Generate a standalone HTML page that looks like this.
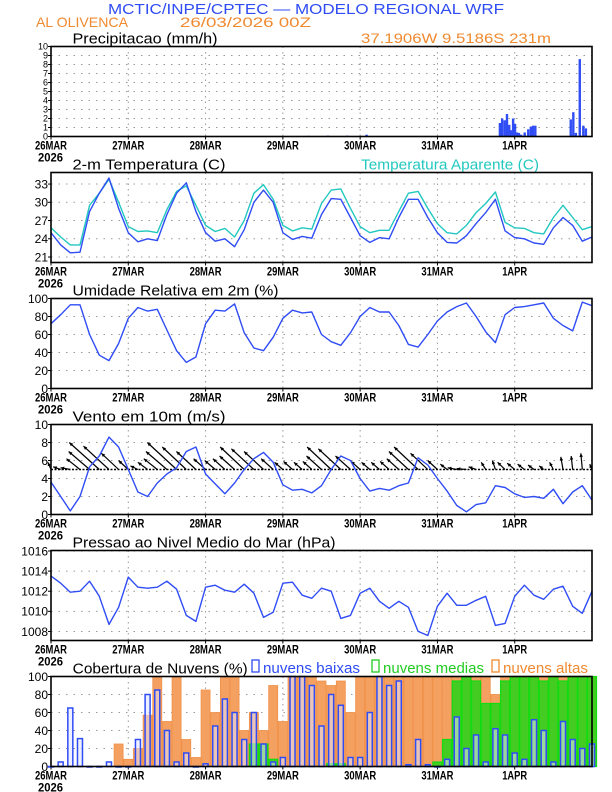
<!DOCTYPE html>
<html><head><meta charset="utf-8"><style>
html,body{margin:0;padding:0;background:#fff}
svg{display:block}
text{font-family:"Liberation Sans",sans-serif}
</style></head><body>
<svg id="chart" width="612" height="792" viewBox="0 0 612 792" xmlns="http://www.w3.org/2000/svg"></svg>
<script>
// ---- data (3-hourly, hours 0..168) ----
const dayLabels = ["26MAR","27MAR","28MAR","29MAR","30MAR","31MAR","1APR"];
const tempTicks = [21,24,27,30,33];
const rhTicks = [0,20,40,60,80,100];
const windTicks = [0,2,4,6,8,10];
const presTicks = [1008,1010,1012,1014,1016];
const cloudTicks = [0,20,40,60,80,100];
const precipTicks = [0,1,2,3,4,5,6,7,8,9,10];
const tempBlue = [25.0,23.0,21.7,21.8,28.5,31.5,34.0,29.0,25.0,
 23.5,24.0,23.7,28.0,31.5,33.2,28.5,25.0,
 23.6,24.0,22.7,25.5,30.0,32.0,30.0,25.0,
 23.9,24.4,24.1,28.0,30.6,30.5,27.5,24.5,
 23.4,24.2,24.0,27.5,30.5,30.5,27.5,25.0,
 23.4,23.3,24.5,26.5,28.3,30.5,25.3,24.2,
 24.0,23.3,23.1,25.8,27.5,26.2,23.6,24.3];
const tempApparent = [25.8,24.3,23.0,23.0,29.5,31.5,33.8,30.0,26.0,
 25.2,25.3,25.0,28.8,31.8,32.7,29.5,26.2,
 25.2,25.7,24.3,27.0,31.5,32.9,30.5,26.2,
 25.3,25.8,25.6,29.8,32.0,32.2,29.0,26.0,
 25.0,25.4,25.4,28.5,31.5,31.8,29.0,26.5,
 25.0,24.8,26.2,28.3,29.8,31.7,26.7,25.8,
 25.7,25.0,24.8,27.5,29.5,27.5,25.5,26.0];
const humidity = [72,82,93,93,60,37,31,50,78,
 90,86,88,65,42,29,35,72,
 87,86,94,62,45,42,57,78,
 87,84,85,60,52,48,62,80,
 90,85,85,70,49,46,60,75,
 85,91,95,80,63,51,82,90,
 91,93,95,78,70,64,96,92];
const windSpeed = [3.6,2.0,0.4,2.0,5.3,6.5,8.6,7.5,5.0,
 2.5,2.0,3.5,4.5,5.2,7.0,7.5,4.5,
 3.4,2.3,3.5,5.0,6.2,6.9,5.8,3.3,
 2.7,2.8,2.4,3.2,5.0,6.5,6.0,4.0,
 2.6,2.9,2.7,3.2,3.5,6.3,5.5,4.0,
 2.6,1.0,0.3,1.1,1.3,3.2,3.0,2.3,
 1.9,2.0,1.8,2.8,1.2,2.5,3.2,1.6];
const arrowV = [0.8,0.3,0.2,1.2,2.0,3.0,2.6,1.8,1.0,
 0.4,0.8,1.2,2.0,3.0,2.5,2.0,1.2,
 1.0,1.2,1.5,2.5,2.3,2.0,1.2,0.8,
 0.9,0.8,0.9,1.5,2.5,2.3,1.5,0.9,
 0.8,0.8,0.9,1.2,2.0,2.5,1.8,1.0,
 0.6,0.2,0.1,0.3,0.8,1.0,0.8,0.7,
 0.6,0.5,0.4,0.8,1.4,1.5,1.8,0.6];
const arrowU = [-0.4,-1.0,-1.3,-1.8,-2.8,-4.0,-3.4,-2.3,-1.3,
 -1.0,-1.3,-1.8,-2.8,-3.9,-3.2,-2.6,-1.6,
 -1.4,-1.6,-2.0,-3.2,-3.0,-2.6,-1.6,-1.1,
 -1.2,-1.1,-1.2,-2.0,-3.2,-3.0,-2.0,-1.2,
 -1.1,-1.1,-1.2,-1.6,-2.6,-3.2,-2.3,-1.3,
 -0.9,-1.2,-1.3,-1.0,-0.6,-0.4,-1.0,-1.0,
 -0.9,-0.8,-0.6,-0.5,-0.3,-0.2,-0.2,-0.3];
const pressure = [1013.5,1012.8,1011.9,1012.0,1013.0,1011.5,1008.7,1010.4,1013.4,
 1012.4,1012.3,1012.4,1013.0,1012.2,1009.6,1009.0,1012.4,
 1012.6,1012.1,1011.9,1012.7,1011.8,1009.4,1009.9,1012.8,
 1012.9,1011.6,1011.3,1012.3,1012.0,1009.3,1009.6,1011.8,
 1012.3,1011.0,1010.3,1011.0,1010.4,1008.0,1007.6,1010.5,
 1011.8,1010.6,1010.6,1011.1,1011.5,1008.6,1008.8,1011.5,
 1012.6,1011.6,1011.2,1012.2,1012.5,1010.5,1009.8,1012.0];
const cloudLow = [0,5,65,31,0,0,5,0,
 0,30,80,85,40,5,15,0,
 3,45,75,60,30,60,25,5,
 10,100,100,90,45,80,68,10,
 10,60,100,90,95,2,30,2,
 0,8,55,20,35,5,42,35,
 15,8,52,40,5,50,30,20,25];
const cloudMid = [0,0,0,0,0,0,0,0,
 0,0,0,0,0,0,0,0,
 0,0,0,0,0,25,25,8,
 0,0,0,0,0,3,3,0,
 0,0,0,0,0,0,0,0,
 5,30,95,100,95,70,70,95,
 100,100,100,95,100,95,100,100,100];
const cloudHigh = [0,0,0,0,0,0,0,25,
 8,20,57,100,50,100,30,10,
 85,60,100,100,40,60,40,90,
 50,100,100,100,95,90,95,60,
 100,100,100,100,100,100,100,100,
 100,100,100,100,100,100,80,100,
 100,100,95,100,95,100,90,100,100];
const precipHours = [50,58,66,80,86,92,98,139.4,140.1,140.9,141.6,142.3,142.9,143.5,144.1,144.7,145.3,146.0,147.1,148.2,149.0,149.7,150.4,161.4,162.2,163.0,164.2,165.3,166.1];
const precipValues = [0.05,0.05,0.05,0.08,0.1,0.1,0.2,1.5,2.0,1.8,2.5,1.3,0.7,2.0,1.4,0.45,0.4,0.2,0.45,0.8,1.1,1.2,1.2,1.9,2.7,0.4,8.6,1.2,0.9];

// ---- layout ----
const svg = document.getElementById('chart');
const NS = 'http://www.w3.org/2000/svg';
const X0 = 51, X1 = 592, HOURS = 168;
function xh(h){ return X0 + h*(X1-X0)/HOURS; }
function mk(tag, attrs, parent){
  const e = document.createElementNS(NS, tag);
  for (const k in attrs) e.setAttribute(k, attrs[k]);
  (parent||svg).appendChild(e);
  return e;
}
function txt(str, attrs, parent){ const t = mk('text', attrs, parent); t.textContent = str; return t; }

const BLUE = '#2f4cf5', CYAN = '#22c8c0', ORANGE = '#f08a30';

let t;
t = txt('MCTIC/INPE/CPTEC \u2014 MODELO REGIONAL WRF', {x:108,y:14,'font-size':15,fill:BLUE,textLength:396,lengthAdjust:'spacingAndGlyphs'});
 
t = txt('AL OLIVENCA', {x:36,y:27,'font-size':14,fill:ORANGE,textLength:92,lengthAdjust:'spacingAndGlyphs'});
 
t = txt('26/03/2026 00Z', {x:180,y:27,'font-size':14,fill:ORANGE,textLength:131,lengthAdjust:'spacingAndGlyphs'});
 
t = txt('37.1906W 9.5186S 231m', {x:361,y:43,'font-size':14,fill:ORANGE,textLength:190,lengthAdjust:'spacingAndGlyphs'});
 

function panel(name, top, ymin, ymax, ticks, tickFont){
  const g = mk('g', {});
  
  
  const H = 90;
  const y = v => top + H - (v-ymin)/(ymax-ymin)*H;
  for (let d=1; d<7; d++){
    const gl = mk('line',{x1:xh(d*24),x2:xh(d*24),y1:top,y2:top+H,stroke:'#999','stroke-width':1,'stroke-dasharray':'1.5,4'},g);
     
  }
  ticks.forEach(v=>{
    if (v>ymin+1e-6 && v<ymax-1e-6){
      const gl = mk('line',{x1:X0,x2:X1,y1:y(v),y2:y(v),stroke:'#999','stroke-width':1,'stroke-dasharray':'1.5,6'},g);
       
    }
    const tk = mk('line',{x1:X0-3,x2:X0,y1:y(v),y2:y(v),stroke:'#000','stroke-width':1},g);
     
    const lb = txt(String(v),{x:X0-3,y:y(v)+tickFont*0.36,'font-size':tickFont,'text-anchor':'end',fill:'#000'},g);
     
  });
  dayLabels.forEach((s,i)=>{
    const xx = xh(i*24);
    const tk = mk('line',{x1:xx,x2:xx,y1:top+H,y2:top+H+3,stroke:'#000','stroke-width':1},g);
     
    const w = s.length===4 ? 25 : 32;
    const lb = txt(s,{x:xx-w/2,y:top+H+13,'font-size':12,'font-weight':'bold',textLength:w,lengthAdjust:'spacingAndGlyphs'},g);
     
  });
  const yr = txt('2026',{x:38,y:top+H+25,'font-size':12,'font-weight':'bold',textLength:25,lengthAdjust:'spacingAndGlyphs'},g);
   
  return {g, y, top, H};
}
function frame(p){
  const b = mk('rect',{x:X0,y:p.top,width:X1-X0,height:p.H,fill:'none',stroke:'#000','stroke-width':1.6},p.g);
   
}
function title(p, s, x, w, color){
  return txt(s,{x:x,y:p.top-3,'font-size':15,fill:color||'#000',textLength:w,lengthAdjust:'spacingAndGlyphs'},p.g);
}
function line(p, arr, color, name){
  const d = arr.map((v,i)=>(i?'L':'M')+xh(i*3).toFixed(1)+','+p.y(v).toFixed(1)).join(' ');
  const l = mk('path',{d:d,fill:'none',stroke:color,'stroke-width':1.4,'stroke-linejoin':'round'},p.g);
   
}

// Panel 1 precipitation
const p1 = panel('precipitation', 46.5, 0, 10, precipTicks, 9);
t = title(p1,'Precipitacao (mm/h)',72.5,145);  
precipHours.forEach((h,i)=>{
  const v = precipValues[i];
  const r = mk('rect',{x:xh(h)-1.2,y:p1.y(v),width:2.4,height:Math.max(0.6,p1.y(0)-p1.y(v)),fill:BLUE},p1.g);
   
});
frame(p1);

// Panel 2 temperature
const p2 = panel('temperature', 172.5, 20.1, 34.9, tempTicks, 12);
t = title(p2,'2-m Temperatura (C)',72.5,153);  
t = title(p2,'Temperatura Aparente (C)',361,178,CYAN);  
line(p2, tempApparent, CYAN, 'apparent-temperature-line');
line(p2, tempBlue, BLUE, 'temperature-line');
frame(p2);

// Panel 3 humidity
const p3 = panel('humidity', 298.5, 0, 100, rhTicks, 12);
t = title(p3,'Umidade Relativa em 2m (%)',72.5,206);  
line(p3, humidity, BLUE, 'humidity-line');
frame(p3);

// Panel 4 wind
const p4 = panel('wind', 424.5, 0, 10, windTicks, 12);
t = title(p4,'Vento em 10m (m/s)',72.5,153);  
const unitPx = 9, unitPxX = 7.5;
arrowV.forEach((v,i)=>{
  const bx = xh(i*3), by = p4.y(5);
  const tx = bx + arrowU[i]*unitPxX, ty = by - v*unitPx;
  const a = mk('line',{x1:bx,y1:by,x2:tx,y2:ty,stroke:'#000','stroke-width':1.2},p4.g);
   
  const ang = Math.atan2(ty-by, tx-bx);
  const hl = 4;
  const hd = `M${tx},${ty} L${tx-hl*Math.cos(ang-0.45)},${ty-hl*Math.sin(ang-0.45)} L${tx-hl*Math.cos(ang+0.45)},${ty-hl*Math.sin(ang+0.45)} Z`;
  const ah = mk('path',{d:hd,fill:'#000'},p4.g);
   
});
const base = mk('line',{x1:X0,x2:X1,y1:p4.y(5),y2:p4.y(5),stroke:'#000','stroke-width':1.5,'stroke-dasharray':'2,1.5'},p4.g);
 
line(p4, windSpeed, BLUE, 'wind-speed-line');
frame(p4);

// Panel 5 pressure
const p5 = panel('pressure', 550.5, 1007.1, 1016.05, presTicks, 12);
t = title(p5,'Pressao ao Nivel Medio do Mar (hPa)',72.5,263);  
line(p5, pressure, BLUE, 'pressure-line');
frame(p5);

// Panel 6 clouds
const p6 = panel('clouds', 676.5, 0, 100, cloudTicks, 12);
t = title(p6,'Cobertura de Nuvens (%)',72.7,175);  
const lg = [[252,'nuvens baixas',263,97,BLUE],[372,'nuvens medias',383,101,'#22cc22'],[492,'nuvens altas',503,85,ORANGE]];
lg.forEach(e=>{
  const r = mk('rect',{x:e[0],y:660,width:7,height:12,fill:'none',stroke:e[4],'stroke-width':1.3},p6.g);
   
  const l = txt(e[1],{x:e[2],y:673,'font-size':15,fill:e[4],textLength:e[3],lengthAdjust:'spacingAndGlyphs'},p6.g);
   
});
const bw = 9.0;
cloudHigh.forEach((v,i)=>{
  if (v<=0) return;
  const r = mk('rect',{x:xh(i*3)-bw/2,y:p6.y(v),width:bw,height:p6.y(0)-p6.y(v),fill:'#f4a060',stroke:'#f09048','stroke-width':0.8},p6.g);
   
});
cloudMid.forEach((v,i)=>{
  if (v<=0) return;
  const r = mk('rect',{x:xh(i*3)-bw/2,y:p6.y(v),width:bw,height:p6.y(0)-p6.y(v),fill:'#44cc22',stroke:'#11dd11','stroke-width':1.2},p6.g);
   
});
const lbw = 5;
cloudLow.forEach((v,i)=>{
  const r = mk('rect',{x:xh(i*3)-lbw/2,y:p6.y(v),width:lbw,height:Math.max(0.5,p6.y(0)-p6.y(v)),fill:'rgba(225,228,255,0.55)',stroke:BLUE,'stroke-width':1.5},p6.g);
   
});
frame(p6);
</script>
</body></html>
